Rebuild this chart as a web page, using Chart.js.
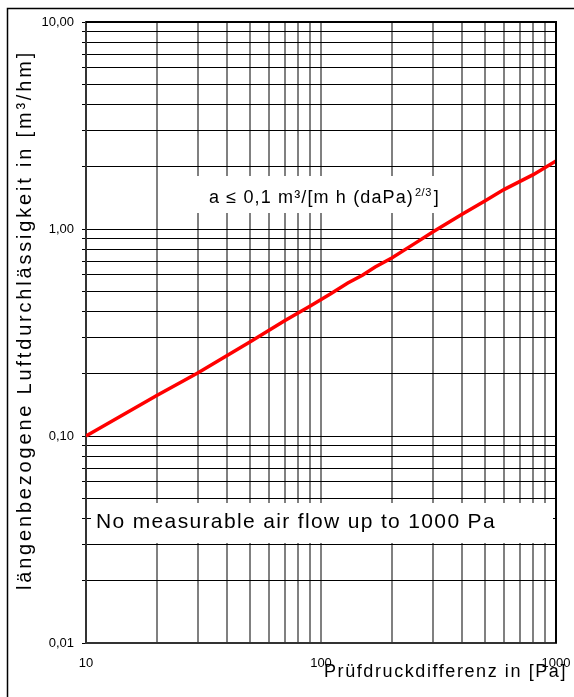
<!DOCTYPE html>
<html>
<head>
<meta charset="utf-8">
<script src="https://cdn.jsdelivr.net/npm/chart.js@4.4.1/dist/chart.umd.min.js"></script>
<style>
	html, body { margin: 0; padding: 0; background: #fff; }
	canvas { display: block; }
</style>
</head>
<body>
<canvas id="canvas01" width="574" height="697"></canvas>
<script>
// values
const pressure = [10, 20, 30, 50, 70, 90, 110, 130, 150, 170, 200, 250, 300, 400, 500, 600, 800, 1000];
const flow = [0.100, 0.157, 0.202, 0.285, 0.360, 0.425, 0.487, 0.548, 0.598, 0.655, 0.725, 0.850, 0.970, 1.180, 1.370, 1.550, 1.830, 2.130];

const xTicks = [10, 20, 30, 40, 50, 60, 70, 80, 90, 100, 200, 300, 400, 500, 600, 700, 800, 900, 1000];
const xTickLabels = ['10', '', '', '', '', '', '', '', '', '100', '', '', '', '', '', '', '', '', '1000'];
const yTicks = [0.01, 0.02, 0.03, 0.04, 0.05, 0.06, 0.07, 0.08, 0.09,
	0.1, 0.2, 0.3, 0.4, 0.5, 0.6, 0.7, 0.8, 0.9,
	1, 2, 3, 4, 5, 6, 7, 8, 9, 10];
const yTickLabels = ['0,01', '', '', '', '', '', '', '', '',
	'0,10', '', '', '', '', '', '', '', '',
	'1,00', '', '', '', '', '', '', '', '', '10,00'];

const xTitle = 'Prüfdruckdifferenz in [Pa]';
const yTitle = 'längenbezogene Luftdurchlässigkeit in [m³/hm]';
const noteLimit = ['a ≤ 0,1 m³/[m h (daPa)', '2/3', ']'];
const noteNoFlow = 'No measurable air flow up to 1000 Pa';

const FONT = '"Liberation Sans", Arial, sans-serif';

// the original text is set wider than Arial, spread the letters to the width
function spreadText(ctx, txt, width) {
	ctx.letterSpacing = '0px';
	var w = ctx.measureText(txt).width;
	var sp = (width - w) / txt.length;
	ctx.letterSpacing = (sp > 0 ? sp : 0) + 'px';
	return sp > 0 ? sp : 0;
}

const frame_backg = {
	id: 'frame_backg',
	beforeDraw(chart) {
		const { ctx, width, height } = chart;
		ctx.save();
		ctx.fillStyle = '#fff';
		ctx.fillRect(0, 0, width, height);
		// outer frame (right and bottom edges are outside the window)
		ctx.strokeStyle = '#000';
		ctx.lineWidth = 1.5;
		ctx.beginPath();
		ctx.moveTo(7.5, height + 5);
		ctx.lineTo(7.5, 8.5);
		ctx.lineTo(width + 5, 8.5);
		ctx.stroke();
		ctx.restore();
	}
};

const note_boxes = {
	id: 'note_boxes',
	beforeDatasetsDraw(chart) {
		const { ctx, chartArea: { left, top, right } } = chart;
		ctx.save();

		// box with the limit value
		ctx.fillStyle = '#fff';
		ctx.fillRect(left + 104, top + 154, 266, 37);
		ctx.fillStyle = '#000';
		ctx.textBaseline = 'alphabetic';
		ctx.font = '18px ' + FONT;
		spreadText(ctx, noteLimit[0], 205);
		var x0 = left + 123;
		ctx.fillText(noteLimit[0], x0, top + 181);
		ctx.font = '11px ' + FONT;
		ctx.letterSpacing = '0.5px';
		ctx.fillText(noteLimit[1], x0 + 205 + 1, top + 174);
		var w2 = ctx.measureText(noteLimit[1]).width;
		ctx.font = '18px ' + FONT;
		ctx.letterSpacing = '0px';
		ctx.fillText(noteLimit[2], x0 + 205 + w2 + 3, top + 181);

		// box over the lowest decade
		ctx.fillStyle = '#fff';
		ctx.fillRect(left + 5, top + 481, right - left - 8, 40);
		ctx.fillStyle = '#000';
		ctx.font = '21px ' + FONT;
		spreadText(ctx, noteNoFlow, 400);
		ctx.fillText(noteNoFlow, left + 10, top + 506);

		ctx.restore();
	}
};

const axis_titles = {
	id: 'axis_titles',
	afterDraw(chart) {
		const { ctx, chartArea: { left, top, right, bottom } } = chart;
		ctx.save();

		// top and right edge of the plot
		ctx.strokeStyle = '#000';
		ctx.lineWidth = 2;
		ctx.beginPath();
		ctx.moveTo(left, top);
		ctx.lineTo(right, top);
		ctx.lineTo(right, bottom);
		ctx.stroke();

		ctx.fillStyle = '#000';
		ctx.font = '18px ' + FONT;
		ctx.textAlign = 'left';
		ctx.textBaseline = 'alphabetic';
		spreadText(ctx, xTitle, 243);
		ctx.fillText(xTitle, right + 11 - 243, bottom + 34);

		ctx.translate(25, 320);
		ctx.rotate(-Math.PI / 2);
		ctx.font = '20px ' + FONT;
		ctx.textAlign = 'left';
		ctx.textBaseline = 'middle';
		spreadText(ctx, yTitle, 540);
		ctx.fillText(yTitle, -270, 0);

		ctx.restore();
	}
};

var graf_log = null;

function GrafLuft() {
	if (graf_log != null) { graf_log.destroy(); }

	var chartData = {
		datasets: [{
			label: 'a',
			data: pressure.map(function (p, i) { return { x: p, y: flow[i] }; }),
			borderColor: '#ff0000',
			backgroundColor: '#ff0000',
			borderWidth: 3.5,
			pointRadius: 0,
			tension: 0,
			fill: false,
		}]
	};

	var config01 = {
		type: 'line',
		data: chartData,
		options: {
			responsive: false,
			animation: false,
			devicePixelRatio: 1,
			layout: {
				padding: { left: 0, top: 22, right: 18, bottom: 0 }
			},
			plugins: {
				legend: { display: false },
				tooltip: { enabled: false },
				title: { display: false },
			},
			scales: {
				x: {
					type: 'logarithmic',
					min: 10,
					max: 1000,
					afterBuildTicks: function (scale) {
						scale.ticks = xTicks.map(function (v) { return { value: v }; });
					},
					afterFit: function (scale) {
						scale.height = 54;
						scale.paddingLeft = 0;
						scale.paddingRight = 0;
					},
					ticks: {
						autoSkip: false,
						maxRotation: 0,
						minRotation: 0,
						padding: 13,
						color: '#000',
						font: { family: FONT, size: 13 },
						callback: function (val, index) { return xTickLabels[index]; },
					},
					grid: {
						color: '#808080',
						lineWidth: 2,
						drawTicks: false,
					},
					border: { color: '#333', width: 2 },
				},
				y: {
					type: 'logarithmic',
					min: 0.01,
					max: 10,
					afterBuildTicks: function (scale) {
						scale.ticks = yTicks.map(function (v) { return { value: v }; });
					},
					afterFit: function (scale) {
						scale.width = 86;
						scale.paddingTop = 0;
						scale.paddingBottom = 0;
					},
					ticks: {
						autoSkip: false,
						padding: 8,
						color: '#000',
						font: { family: FONT, size: 13 },
						callback: function (val, index) { return yTickLabels[index]; },
					},
					grid: {
						color: '#000',
						lineWidth: 1,
						tickLength: 4,
						tickColor: '#000',
					},
					border: { color: '#333', width: 2 },
				}
			},
		},
		plugins: [frame_backg, note_boxes, axis_titles]
	};

	var ctx01 = document.getElementById('canvas01').getContext('2d');
	graf_log = new Chart(ctx01, config01);
}

GrafLuft();
</script>
</body>
</html>
